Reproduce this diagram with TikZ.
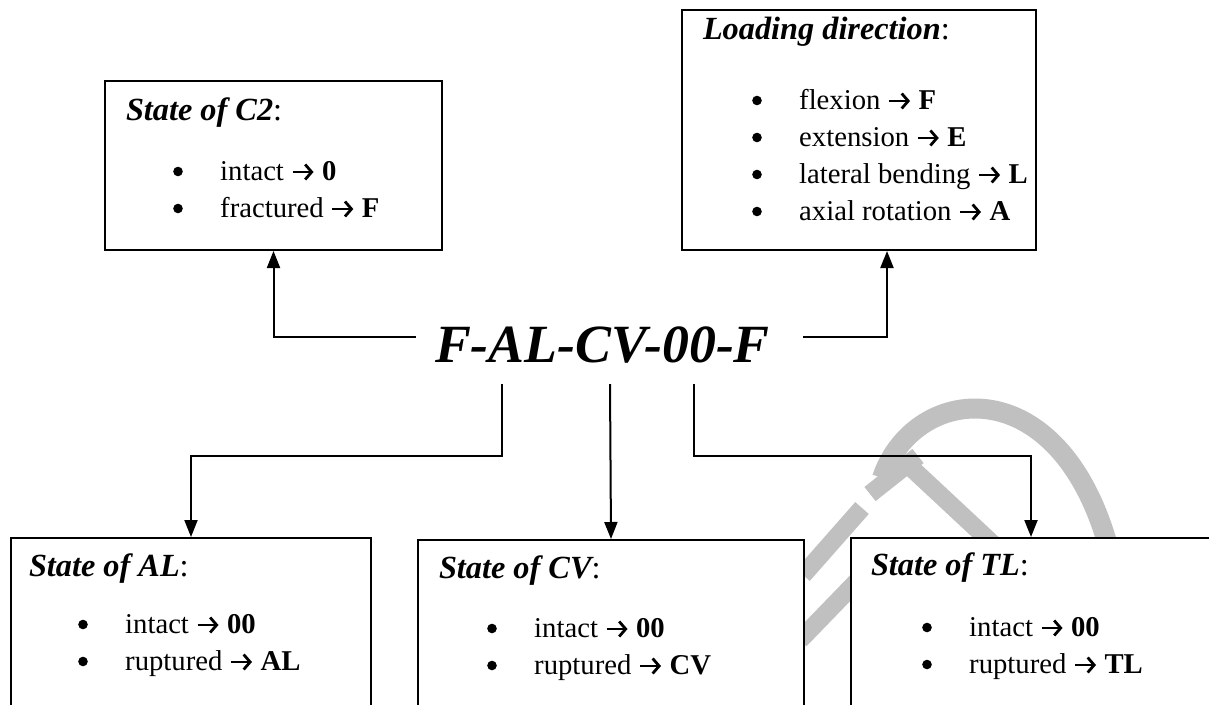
\documentclass[tikz,border=0pt]{standalone}
\usepackage{fontspec}
\setmainfont{Liberation Serif}
\usetikzlibrary{arrows.meta}
\definecolor{wmgray}{RGB}{192,192,192}
\newcommand{\ra}{\tikz[baseline=0pt, x=1pt, y=1pt] \draw[line width=2.8pt, -{Straight Barb[length=6.5pt, width=15pt, line width=2.8pt]}] (0,8) -- (21,8);}
\newcommand{\bul}{\makebox[47pt][l]{\tikz[baseline=0pt, x=1pt, y=1pt] \fill (5,8.5) circle (4.8pt);}}

\begin{document}
\begin{tikzpicture}[x=1pt, y=-1pt, line width=2pt,
    >={Triangle[length=17pt, width=13pt]},
    box/.style={draw, fill=white, anchor=north west, inner sep=0pt},
    ttl/.style={anchor=base west, inner sep=0pt, font=\fontsize{32.3}{38}\selectfont\bfseries\itshape},
    lst/.style={anchor=base west, inner sep=0pt, align=left, font=\fontsize{28.7}{37}\selectfont},
    codetxt/.style={fill=white, inner xsep=18pt, inner ysep=11pt, text width=349pt,
        text height=50pt, text depth=0pt, align=left,
        font=\fontsize{53.8}{60}\selectfont\bfseries\itshape}]
        \useasboundingbox (0,0) rectangle (1209,704);
        \clip (0,0) rectangle (1209,704);

        % Watermark
        \draw[wmgray, line width=20pt] (882,478) .. controls (915,380) and (1070,365) .. (1114,570);
        \draw[wmgray, line width=18pt] (870,494) -- (918,456);
        \draw[wmgray, line width=18pt] (905,462) -- (1010,560);
        \draw[wmgray, line width=18pt] (803,575) -- (862,508);
        \draw[wmgray, line width=18pt] (800,640) -- (860,578);

        % Nodes
        \node[codetxt] (fcode) at (609.5,337) {F-AL-CV-00-F};

        \node[box, minimum width=337pt, minimum height=169pt] (c2) at (104,80) {};
        \node[ttl] (c2t) at (125,120) {State of C2{\normalfont:}};
        \node[lst] (c2l) at (173,217) {\bul intact \ra{} \textbf{0}\\ \bul fractured \ra{} \textbf{F}};

        \node[box, minimum width=354pt, minimum height=240pt] (ld) at (681,9) {};
        \node[ttl] (ldt) at (702,39) {Loading direction{\normalfont:}};
        \node[lst] (ldl) at (752,220) {\bul flexion \ra{} \textbf{F}\\ \bul extension \ra{} \textbf{E}\\
            \bul lateral bending \ra{} \textbf{L}\\ \bul axial rotation \ra{} \textbf{A}};

        \node[box, minimum width=360pt, minimum height=200pt] (al) at (10,537) {};
        \node[ttl] (alt) at (28,576) {State of AL{\normalfont:}};
        \node[lst] (all) at (78,670) {\bul intact \ra{} \textbf{00}\\ \bul ruptured \ra{} \textbf{AL}};

        \node[box, minimum width=386pt, minimum height=200pt] (cv) at (417,539) {};
        \node[ttl] (cvt) at (438,578) {State of CV{\normalfont:}};
        \node[lst] (cvl) at (487,674) {\bul intact \ra{} \textbf{00}\\ \bul ruptured \ra{} \textbf{CV}};

        \node[box, minimum width=360pt, minimum height=200pt] (tl) at (850,537) {};
        \node[ttl] (tlt) at (870,575) {State of TL{\normalfont:}};
        \node[lst] (tll) at (922,673) {\bul intact \ra{} \textbf{00}\\ \bul ruptured \ra{} \textbf{TL}};

        \coordinate (d1) at (502,384);
        \coordinate (d2) at (610,384);
        \coordinate (d3) at (694,384);

        % Edges
        \draw[->] (fcode.west) -| (c2.south);
        \draw[->] (fcode.east) -| ([xshift=28pt]ld.south);
        \draw[->] (d1) -- ++(0,72) -| (al.north);
        \draw[->] (d2) -- (cv.north);
        \draw[->] (d3) -- ++(0,72) -| (tl.north);
    \end{tikzpicture}
\end{document}
